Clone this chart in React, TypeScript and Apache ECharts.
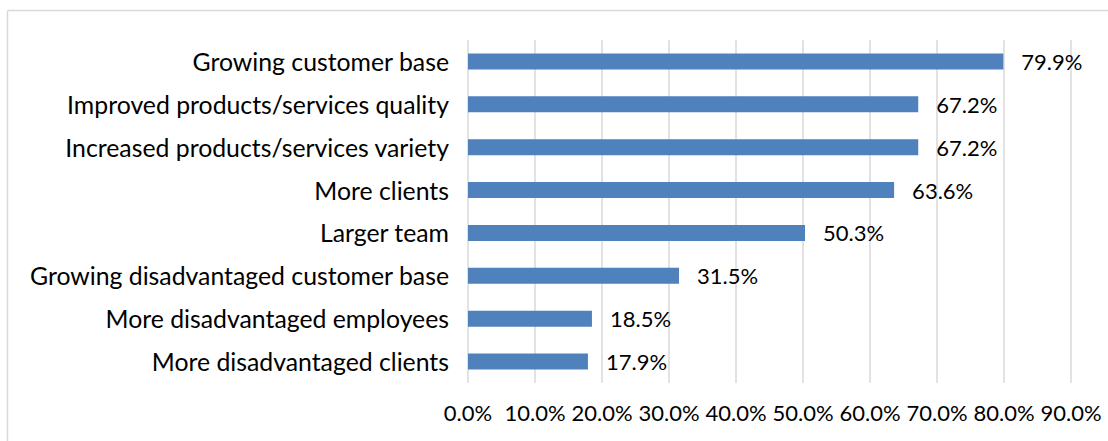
import React, { useEffect, useRef } from "react";
import * as echarts from "echarts";

const categories = [
  "Growing customer base",
  "Improved products/services quality",
  "Increased products/services variety",
  "More clients",
  "Larger team",
  "Growing disadvantaged customer base",
  "More disadvantaged employees",
  "More disadvantaged clients",
];
const values = [79.9, 67.2, 67.2, 63.6, 50.3, 31.5, 18.5, 17.9];

const FONT = "Lato, 'Open Sans', sans-serif";

export default function App() {
  const ref = useRef<HTMLDivElement>(null);
  useEffect(() => {
    if (!ref.current) return;
    const chart = echarts.init(ref.current, null, { renderer: "svg" });
    chart.setOption({
      animation: false,
      backgroundColor: "#ffffff",
      grid: { left: 468, right: 37, top: 40, bottom: 58, containLabel: false },
      graphic: [
        { type: "line", shape: { x1: 7.5, y1: 10.5, x2: 1108, y2: 10.5 }, style: { stroke: "#d9d9d9", lineWidth: 1.5 } },
        { type: "line", shape: { x1: 7.5, y1: 10.5, x2: 7.5, y2: 441 }, style: { stroke: "#d9d9d9", lineWidth: 1.5 } },
      ],
      xAxis: {
        type: "value",
        min: 0,
        max: 90,
        interval: 10,
        axisLine: { show: false },
        axisTick: { show: false },
        splitLine: { show: true, lineStyle: { color: "#d9d9d9", width: 1.5 } },
        axisLabel: {
          formatter: (v: number) => v.toFixed(1) + "%",
          fontFamily: FONT,
          fontSize: 22,
          color: "#000000",
          margin: 18,
        },
      },
      yAxis: {
        type: "category",
        data: categories,
        inverse: true,
        axisLine: { show: false },
        axisTick: { show: false },
        axisLabel: { fontFamily: FONT, fontSize: 24.8, color: "#000000", margin: 19 },
      },
      series: [
        {
          type: "bar",
          data: values,
          barWidth: 16,
          itemStyle: { color: "#4f81bd" },
          label: {
            show: true,
            position: "right",
            distance: 18,
            formatter: (p: any) => p.value.toFixed(1) + "%",
            fontFamily: FONT,
            fontSize: 22,
            color: "#000000",
          },
        },
      ],
    });
    return () => chart.dispose();
  }, []);
  return (
    <div
      ref={ref}
      style={{ position: "absolute", left: 0, top: 0, width: 1108, height: 441 }}
    />
  );
}
